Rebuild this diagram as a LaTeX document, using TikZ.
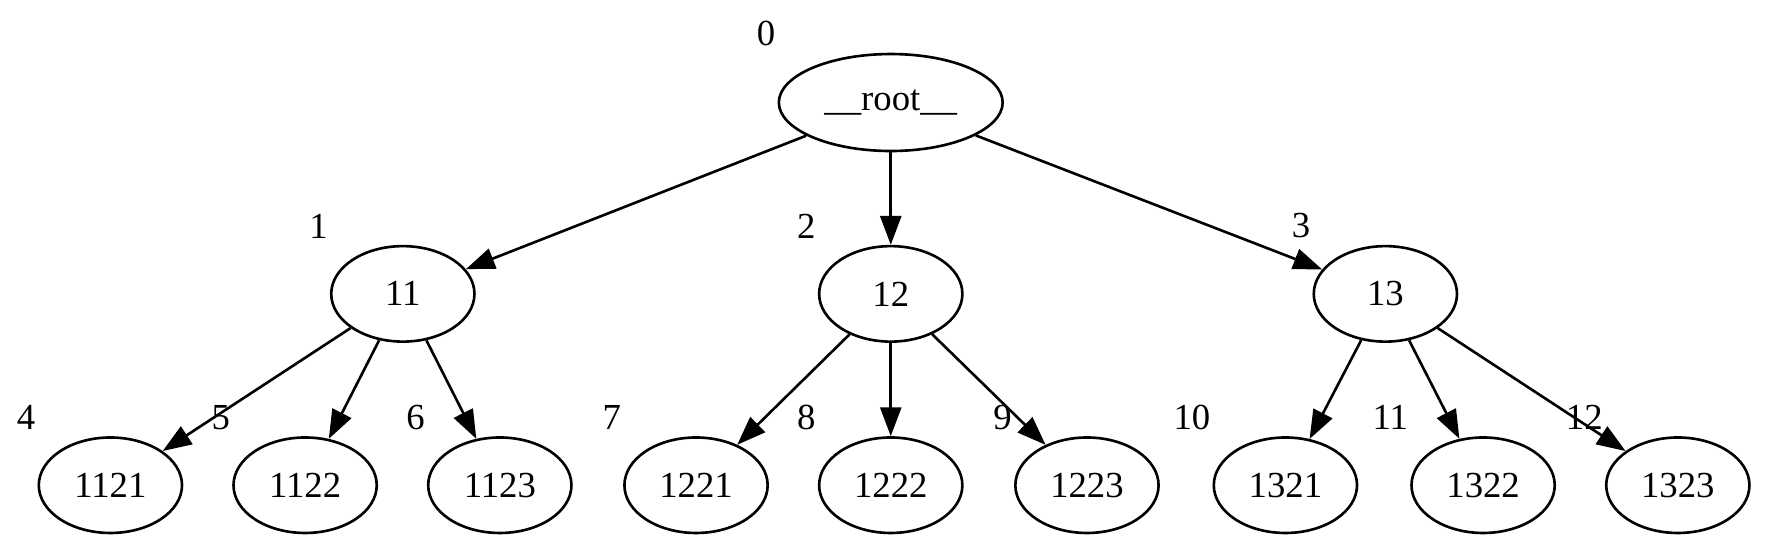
\documentclass[tikz,border=0pt]{standalone}
\usepackage{fontspec}
\setmainfont{Liberation Serif}
\usetikzlibrary{shapes}
\usetikzlibrary{arrows.meta,positioning}
\tikzstyle{tn}=[on grid, ellipse, draw=black, inner sep=0pt, minimum width=1.92cm, minimum height=1.28cm, font=\fontsize{14}{16}\selectfont]
\tikzstyle{rtn}=[tn, minimum width=3.0cm, minimum height=1.30cm]
\tikzstyle{ix}=[inner sep=0pt, font=\fontsize{14}{16}\selectfont]

\begin{document}
\begin{tikzpicture}[->,>={Triangle[length=11pt,width=8pt]}, line width=1pt, node distance=2.565cm]
%
  \useasboundingbox (-11.94,-6.03) rectangle (12.00,1.374);
  \node[rtn] (root) {\_\_root\_\_};
  \node[tn] (n11) [below left=2.565cm and 6.54cm of root] {11};
  \node[tn] (n12) [below=of root] {12};
  \node[tn] (n13) [below right=2.565cm and 6.63cm of root] {13};
  \node[tn] (n1121) [below left=2.565cm and 3.92cm of n11] {1121};
  \node[tn] (n1122) [below left=2.565cm and 1.31cm of n11] {1122};
  \node[tn] (n1123) [below right=2.565cm and 1.30cm of n11] {1123};
  \node[tn] (n1221) [below left=2.565cm and 2.61cm of n12] {1221};
  \node[tn] (n1222) [below=of n12] {1222};
  \node[tn] (n1223) [below right=2.565cm and 2.63cm of n12] {1223};
  \node[tn] (n1321) [below left=2.565cm and 1.34cm of n13] {1321};
  \node[tn] (n1322) [below right=2.565cm and 1.31cm of n13] {1322};
  \node[tn] (n1323) [below right=2.565cm and 3.92cm of n13] {1323};
%
  \node[ix] (x0) [above left=0.74cm and 1.53cm of root.center] {0};
  \node[ix] (x1) [above left=0.73cm and 0.99cm of n11.center] {1};
  \node[ix] (x2) [above left=0.73cm and 0.99cm of n12.center] {2};
  \node[ix] (x3) [above left=0.73cm and 0.99cm of n13.center] {3};
  \node[ix] (x4) [above left=0.73cm and 0.99cm of n1121.center] {4};
  \node[ix] (x5) [above left=0.73cm and 0.99cm of n1122.center] {5};
  \node[ix] (x6) [above left=0.73cm and 0.99cm of n1123.center] {6};
  \node[ix] (x7) [above left=0.73cm and 0.99cm of n1221.center] {7};
  \node[ix] (x8) [above left=0.73cm and 0.99cm of n1222.center] {8};
  \node[ix] (x9) [above left=0.73cm and 0.99cm of n1223.center] {9};
  \node[ix] (x10) [above left=0.73cm and 0.99cm of n1321.center] {10};
  \node[ix] (x11) [above left=0.73cm and 0.99cm of n1322.center] {11};
  \node[ix] (x12) [above left=0.73cm and 0.99cm of n1323.center] {12};
%
  \path[]
  (root) edge node {} (n11)
  (root) edge node {} (n12)
  (root) edge node {} (n13)
  (n11) edge node {} (n1121)
  (n11) edge node {} (n1122)
  (n11) edge node {} (n1123)
  (n12) edge node {} (n1221)
  (n12) edge node {} (n1222)
  (n12) edge node {} (n1223)
  (n13) edge node {} (n1321)
  (n13) edge node {} (n1322)
  (n13) edge node {} (n1323);
%
\end{tikzpicture}
\end{document}
